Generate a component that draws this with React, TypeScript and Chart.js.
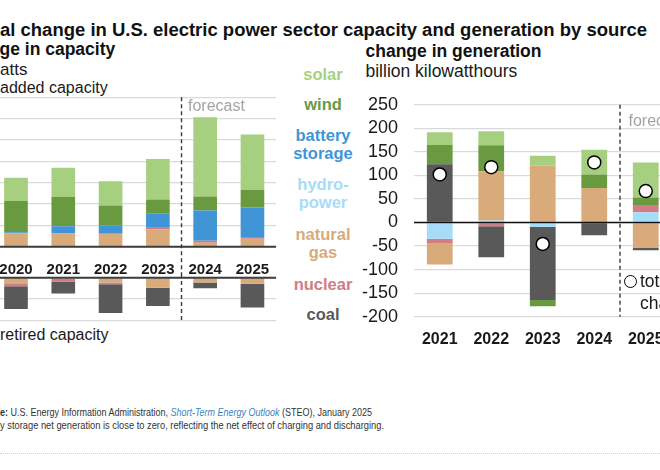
import React, { useEffect, useLayoutEffect, useRef } from 'react';
import { Chart, registerables } from 'chart.js';
Chart.register(...registerables);

const FONT = "'Liberation Sans', Arial, Helvetica, sans-serif";

// ---- colours ----
const C_SOLAR = '#a6d07f';
const C_WIND = '#6a9a3f';
const C_BATTERY = '#3f95d6';
const C_HYDRO = '#a7dcf8';
const C_GAS = '#d9aa7a';
const C_NUCLEAR = '#d27c86';
const C_COAL = '#595959';

// ---- capacity (gigawatts) ----
const capYears = ['2020', '2021', '2022', '2023', '2024', '2025'];
const capGas = [6.2, 6.2, 6.1, 8.1, 1.9, 3.7];
const capNuclear = [0, 0, 0, 1.1, 0.9, 0.8];
const capBattery = [0.6, 3.4, 4.0, 6.5, 14.2, 13.9];
const capWind = [14.6, 13.7, 9.2, 6.4, 6.5, 8.3];
const capSolar = [10.9, 13.7, 11.4, 19.0, 37.2, 25.9];
const retGas = [-2.6, -0.6, -2.3, -4.7, -2.3, -2.8];
const retNuclear = [-1.4, -1.2, -0.8, 0, 0, 0];
const retCoal = [-10.7, -5.6, -13.5, -8.6, -2.6, -11.2];
const capTicks = { min: 0, max: 70, step: 10 };
const retTicks = { min: -20, max: 0, step: 10 };

// ---- generation (billion kWh) ----
const genYears = ['2021', '2022', '2023', '2024', '2025'];
const genHydro = [-34.2, 4.5, -9.3, 0, 21.6];
const genNuclear = [-9.5, -8, 0, 3, 15.5];
const genGas = [-45.5, 104.5, 121, 70.3, -54.2];
const genCoal = [123.5, -65.7, -155.1, -26.8, -4.8];
const genWind = [41.1, 55, -13.5, 28.9, 16.1];
const genSolar = [27, 29.6, 20.8, 52.3, 74.5];
const genTotal = [102.1, 117.6, -45.5, 127.7, 66.7];
const genTicks = { min: -200, max: 250, step: 50 };

function bar(label: string, data: number[], color: string) {
  return {
    type: 'bar',
    label,
    data,
    backgroundColor: color,
    borderWidth: 0,
    stack: 's',
    barPercentage: 0.5,
    categoryPercentage: 1,
  };
}

function zeroLine(color: string, width: number) {
  return {
    id: 'zeroLine',
    afterDatasetsDraw(chart: any) {
      const y = chart.scales.y.getPixelForValue(0);
      const { left, right } = chart.chartArea;
      const ctx = chart.ctx;
      ctx.save();
      ctx.strokeStyle = color;
      ctx.lineWidth = width;
      ctx.beginPath();
      ctx.moveTo(left, y);
      ctx.lineTo(right, y);
      ctx.stroke();
      ctx.restore();
    },
  };
}

function forecast(split: number, o: any) {
  return {
    id: 'forecast',
    afterDraw(chart: any) {
      const x = chart.scales.x;
      const px = (x.getPixelForValue(split) + x.getPixelForValue(split + 1)) / 2;
      const top = o.fromCanvasTop ? 0 : chart.chartArea.top;
      const bottom = o.toCanvasBottom ? chart.height : chart.chartArea.bottom;
      const ctx = chart.ctx;
      ctx.save();
      ctx.strokeStyle = '#3a3a3a';
      ctx.lineWidth = 1.4;
      ctx.setLineDash([4, 3]);
      ctx.lineDashOffset = o.dashOffset || 0;
      ctx.beginPath();
      ctx.moveTo(px, top);
      ctx.lineTo(px, bottom);
      ctx.stroke();
      if (o.text) {
        ctx.setLineDash([]);
        ctx.fillStyle = '#a3a3a3';
        ctx.font = `16px ${FONT}`;
        ctx.textBaseline = 'alphabetic';
        ctx.textAlign = 'left';
        ctx.fillText(o.text, px + o.dx, chart.chartArea.top + o.dy);
      }
      ctx.restore();
    },
  };
}

const common = {
  responsive: false,
  maintainAspectRatio: false,
  animation: false,
  events: [],
  plugins: { legend: { display: false }, tooltip: { enabled: false } },
};

function Txt(p: any) {
  const size = p.size;
  const style: any = {
    position: 'absolute',
    top: p.base - size * 0.9465,
    left: p.x,
    fontSize: size,
    lineHeight: `${size * 1.2}px`,
    fontWeight: p.bold ? 700 : 400,
    color: p.color || '#1a1a1a',
    whiteSpace: 'nowrap',
    fontFamily: FONT,
  };
  if (p.center) style.transform = 'translateX(-50%)';
  return <div style={style}>{p.children}</div>;
}

function FitLine(p: any) {
  const ref = useRef<HTMLDivElement>(null);
  useLayoutEffect(() => {
    const el = ref.current;
    if (!el) return;
    el.style.transform = 'none';
    const w = el.getBoundingClientRect().width;
    if (w > 0) el.style.transform = `scaleX(${p.width / w})`;
  });
  const size = p.size;
  return (
    <div
      ref={ref}
      style={{
        position: 'absolute',
        left: p.x,
        top: p.base - size * 0.9465,
        fontSize: size,
        fontWeight: p.bold ? 700 : 400,
        lineHeight: `${size * 1.2}px`,
        fontFamily: FONT,
        color: p.color || '#333',
        whiteSpace: 'nowrap',
        display: 'inline-block',
        transformOrigin: '0 0',
      }}
    >
      {p.children}
    </div>
  );
}

const legendItems: [string[], string, number][] = [
  [['solar'], C_SOLAR, 81],
  [['wind'], C_WIND, 111],
  [['battery', 'storage'], C_BATTERY, 142],
  [['hydro-', 'power'], C_HYDRO, 191],
  [['natural', 'gas'], C_GAS, 241],
  [['nuclear'], C_NUCLEAR, 290.5],
  [['coal'], C_COAL, 321],
];

export default function App() {
  const upRef = useRef<HTMLCanvasElement>(null);
  const lowRef = useRef<HTMLCanvasElement>(null);
  const genRef = useRef<HTMLCanvasElement>(null);

  useEffect(() => {
    const xTicksLeft = {
      color: '#1a1a1a',
      font: { family: FONT, size: 15, weight: 'bold' },
      padding: 6,
      maxRotation: 0,
      autoSkip: false,
    };

    const up = new Chart(upRef.current as any, {
      type: 'bar',
      data: {
        labels: capYears,
        datasets: [
          bar('natural gas', capGas, C_GAS),
          bar('nuclear', capNuclear, C_NUCLEAR),
          bar('battery storage', capBattery, C_BATTERY),
          bar('wind', capWind, C_WIND),
          bar('solar', capSolar, C_SOLAR),
        ] as any,
      },
      options: {
        ...common,
        layout: { autoPadding: false, padding: { left: 0.35, right: 0.9, top: 3.3, bottom: 0 } },
        scales: {
          x: {
            stacked: true,
            grid: { display: false },
            border: { display: false },
            ticks: xTicksLeft,
            afterFit: (s: any) => { s.height = 29.3; },
          },
          y: {
            stacked: true,
            min: capTicks.min,
            max: capTicks.max,
            ticks: { display: false, stepSize: capTicks.step, autoSkip: false },
            grid: { color: '#dadada', lineWidth: 1.3, drawTicks: false },
            border: { display: false },
            afterFit: (s: any) => { s.width = 0; },
          },
        },
      } as any,
      plugins: [zeroLine('#3d3d3d', 2), forecast(3, { toCanvasBottom: true, text: 'forecast', dx: 6.5, dy: 13.7 })],
    });

    const low = new Chart(lowRef.current as any, {
      type: 'bar',
      data: {
        labels: capYears,
        datasets: [
          bar('natural gas', retGas, C_GAS),
          bar('nuclear', retNuclear, C_NUCLEAR),
          bar('coal', retCoal, C_COAL),
        ] as any,
      },
      options: {
        ...common,
        layout: { autoPadding: false, padding: { left: 0.35, right: 0.9, top: 1.7, bottom: 2.7 } },
        scales: {
          x: { stacked: true, display: false },
          y: {
            stacked: true,
            min: retTicks.min,
            max: retTicks.max,
            ticks: { display: false, stepSize: retTicks.step, autoSkip: false },
            grid: { color: '#dadada', lineWidth: 1.3, drawTicks: false },
            border: { display: false },
            afterFit: (s: any) => { s.width = 0; },
          },
        },
      } as any,
      plugins: [zeroLine('#3d3d3d', 2), forecast(3, { fromCanvasTop: true, dashOffset: 2 })],
    });

    const gen = new Chart(genRef.current as any, {
      type: 'bar',
      data: {
        labels: genYears,
        datasets: [
          {
            type: 'line',
            label: 'total change',
            data: genTotal,
            showLine: false,
            pointRadius: 6.5,
            pointBackgroundColor: '#ffffff',
            pointBorderColor: '#000000',
            pointBorderWidth: 1.5,
            stack: 'total',
            order: -1,
          },
          bar('hydropower', genHydro, C_HYDRO),
          bar('nuclear', genNuclear, C_NUCLEAR),
          bar('natural gas', genGas, C_GAS),
          bar('coal', genCoal, C_COAL),
          bar('wind', genWind, C_WIND),
          bar('solar', genSolar, C_SOLAR),
        ] as any,
      },
      options: {
        ...common,
        layout: { autoPadding: false, padding: { left: 0, right: 0.5, top: 15.3, bottom: 0.3 } },
        scales: {
          x: {
            stacked: true,
            grid: { display: false },
            border: { display: false },
            ticks: {
              color: '#1a1a1a',
              font: { family: FONT, size: 16, weight: 'bold' },
              padding: 5,
              maxRotation: 0,
              autoSkip: false,
            },
            afterFit: (s: any) => { s.height = 30; },
          },
          y: {
            stacked: true,
            min: genTicks.min,
            max: genTicks.max,
            ticks: {
              stepSize: genTicks.step,
              autoSkip: false,
              color: '#1a1a1a',
              font: { family: FONT, size: 18 },
              padding: 16,
            },
            grid: { color: '#dadada', lineWidth: 1.3, drawTicks: false },
            border: { display: false },
            afterFit: (s: any) => { s.width = 54; },
          },
        },
      } as any,
      plugins: [zeroLine('#111111', 1.5), forecast(3, { text: 'forecast', dx: 8.5, dy: 20.7 })],
    });

    return () => {
      up.destroy();
      low.destroy();
      gen.destroy();
    };
  }, []);

  return (
    <div
      style={{
        position: 'fixed',
        left: 0,
        top: 0,
        width: 660,
        height: 470,
        overflow: 'hidden',
        background: '#ffffff',
        fontFamily: FONT,
      }}
    >
      <FitLine x={-0.5} base={37.2} size={18} bold color="#111" width={647}>
        al change in U.S. electric power sector capacity and generation by source
      </FitLine>
      <Txt x={-0.5} base={55.5} size={17.5} bold color="#111">ge in capacity</Txt>
      <Txt x={0} base={76} size={17} color="#1a1a1a">atts</Txt>
      <Txt x={0} base={93} size={16} color="#1a1a1a">added capacity</Txt>
      <Txt x={0} base={340} size={16} color="#1a1a1a">retired capacity</Txt>

      <Txt x={365.5} base={57.5} size={17.5} bold color="#111">change in generation</Txt>
      <Txt x={365.5} base={78} size={17.5} color="#1a1a1a">billion kilowatthours</Txt>

      {legendItems.map(([lines, color, base]) =>
        lines.map((t, i) => (
          <Txt key={t} x={323} base={base + i * 18} size={16.5} bold color={color} center>
            {t}
          </Txt>
        ))
      )}

      <canvas
        ref={upRef}
        width={285}
        height={182}
        style={{ position: 'absolute', left: -8, top: 94, width: 285, height: 182 }}
      />
      <canvas
        ref={lowRef}
        width={285}
        height={47}
        style={{ position: 'absolute', left: -8, top: 276, width: 285, height: 47 }}
      />
      <canvas
        ref={genRef}
        width={312}
        height={269}
        style={{ position: 'absolute', left: 360, top: 78, width: 312, height: 269 }}
      />

      <div
        style={{
          position: 'absolute',
          left: 623.5,
          top: 275,
          width: 13,
          height: 13,
          boxSizing: 'border-box',
          borderRadius: '50%',
          border: '1.5px solid #000',
          background: '#fff',
        }}
      />
      <Txt x={640} base={288} size={17.5} color="#1a1a1a">total</Txt>
      <Txt x={640} base={309.5} size={17.5} color="#1a1a1a">change</Txt>

      <FitLine x={0} base={417.3} size={11.5} width={372}>
        <b>e:</b> U.S. Energy Information Administration,{' '}
        <i style={{ color: '#3b83c0' }}>Short-Term Energy Outlook</i> (STEO), January 2025
      </FitLine>
      <FitLine x={0} base={430.3} size={11.5} width={384}>
        y storage net generation is close to zero, reflecting the net effect of charging and discharging.
      </FitLine>
      <div
        style={{
          position: 'absolute',
          left: 0,
          top: 453,
          width: 660,
          height: 0,
          borderTop: '1px dotted #cfcfcf',
        }}
      />
    </div>
  );
}
